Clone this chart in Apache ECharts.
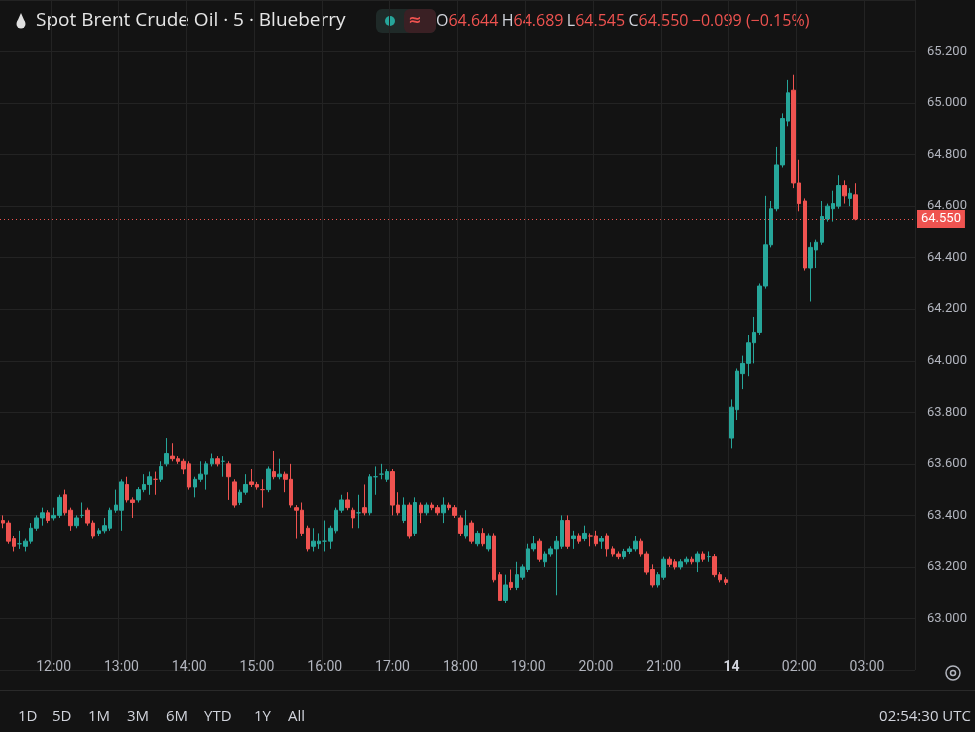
<!DOCTYPE html>
<html><head><meta charset="utf-8">
<script src="https://cdn.jsdelivr.net/npm/echarts@6/dist/echarts.min.js"></script>
<style>html,body{margin:0;padding:0;background:#131313}#c{width:975px;height:732px}</style>
</head><body><div id="c"></div>
<script>
const opens = [63.38,63.37,63.31,63.29,63.28,63.30,63.35,63.39,63.41,63.39,63.40,63.48,63.42,63.36,63.40,63.42,63.37,63.33,63.34,63.35,63.42,63.42,63.52,63.46,63.46,63.50,63.52,63.54,63.54,63.60,63.63,63.62,63.61,63.60,63.51,63.54,63.56,63.60,63.62,63.61,63.60,63.53,63.45,63.49,63.53,63.52,63.50,63.50,63.57,63.55,63.56,63.54,63.43,63.42,63.35,63.28,63.29,63.30,63.30,63.34,63.42,63.46,63.42,63.41,63.43,63.41,63.55,63.56,63.54,63.57,63.44,63.38,63.44,63.33,63.44,63.41,63.44,63.43,63.41,63.44,63.43,63.39,63.32,63.37,63.29,63.33,63.27,63.32,63.17,63.07,63.14,63.12,63.16,63.19,63.27,63.30,63.22,63.25,63.27,63.28,63.38,63.31,63.32,63.31,63.32,63.32,63.30,63.32,63.27,63.25,63.24,63.26,63.27,63.30,63.25,63.19,63.13,63.16,63.23,63.22,63.20,63.22,63.23,63.22,63.25,63.24,63.24,63.17,63.15,63.70,63.81,63.95,63.99,64.07,64.11,64.29,64.45,64.59,64.76,64.93,65.05,64.69,64.62,64.36,64.43,64.46,64.55,64.59,64.60,64.68,64.63,64.644];
const closes = [63.37,63.30,63.28,63.29,63.30,63.35,63.39,63.41,63.38,63.40,63.47,63.41,63.36,63.39,63.40,63.37,63.32,63.34,63.36,63.42,63.44,63.53,63.46,63.45,63.50,63.52,63.55,63.54,63.59,63.64,63.62,63.61,63.58,63.51,63.54,63.56,63.60,63.62,63.60,63.61,63.55,63.44,63.49,63.52,63.52,63.51,63.50,63.58,63.55,63.56,63.54,63.44,63.42,63.33,63.27,63.30,63.30,63.30,63.35,63.42,63.46,63.43,63.39,63.41,63.41,63.55,63.55,63.56,63.57,63.44,63.41,63.44,63.32,63.45,63.41,63.44,63.43,63.41,63.44,63.43,63.40,63.33,63.36,63.30,63.33,63.29,63.32,63.15,63.07,63.13,63.12,63.17,63.20,63.27,63.29,63.23,63.25,63.27,63.30,63.38,63.28,63.32,63.30,63.33,63.32,63.29,63.31,63.27,63.25,63.24,63.26,63.27,63.30,63.25,63.18,63.13,63.17,63.23,63.21,63.20,63.22,63.23,63.22,63.25,63.23,63.24,63.17,63.15,63.14,63.82,63.96,63.99,64.07,64.11,64.29,64.45,64.59,64.76,64.94,65.04,64.69,64.61,64.36,64.44,64.46,64.56,64.60,64.61,64.68,64.64,64.65,64.550];
const highs = [63.40,63.38,63.32,63.34,63.31,63.37,63.40,63.43,63.42,63.43,63.48,63.50,63.43,63.40,63.45,63.43,63.38,63.35,63.39,63.43,63.50,63.54,63.55,63.47,63.51,63.56,63.57,63.57,63.61,63.70,63.68,63.63,63.62,63.61,63.55,63.61,63.61,63.64,63.63,63.63,63.61,63.54,63.50,63.56,63.58,63.53,63.54,63.59,63.65,63.62,63.57,63.60,63.44,63.45,63.36,63.35,63.33,63.38,63.36,63.43,63.48,63.49,63.43,63.48,63.52,63.56,63.59,63.60,63.58,63.58,63.49,63.47,63.45,63.47,63.45,63.45,63.45,63.44,63.47,63.45,63.44,63.40,63.42,63.38,63.34,63.35,63.33,63.33,63.18,63.17,63.19,63.22,63.21,63.29,63.32,63.31,63.26,63.28,63.32,63.40,63.40,63.34,63.33,63.36,63.33,63.34,63.32,63.33,63.28,63.26,63.27,63.28,63.32,63.31,63.26,63.21,63.18,63.24,63.24,63.23,63.23,63.24,63.24,63.26,63.26,63.26,63.25,63.18,63.16,63.85,63.97,64.02,64.10,64.17,64.30,64.64,64.62,64.83,64.96,65.09,65.11,64.78,64.63,64.46,64.47,64.62,64.61,64.66,64.72,64.70,64.67,64.689];
const lows = [63.35,63.29,63.26,63.27,63.26,63.29,63.34,63.36,63.37,63.38,63.39,63.40,63.34,63.35,63.39,63.36,63.31,63.32,63.33,63.34,63.41,63.34,63.45,63.39,63.45,63.49,63.48,63.48,63.53,63.59,63.61,63.60,63.56,63.50,63.47,63.53,63.50,63.59,63.59,63.55,63.46,63.43,63.44,63.48,63.51,63.50,63.43,63.49,63.54,63.54,63.49,63.43,63.31,63.32,63.26,63.26,63.27,63.26,63.27,63.33,63.41,63.42,63.35,63.35,63.40,63.40,63.48,63.54,63.53,63.40,63.40,63.37,63.31,63.32,63.37,63.40,63.42,63.40,63.37,63.42,63.39,63.32,63.31,63.29,63.28,63.28,63.26,63.14,63.07,63.06,63.11,63.11,63.15,63.18,63.26,63.22,63.20,63.24,63.09,63.27,63.27,63.27,63.29,63.30,63.28,63.28,63.27,63.24,63.24,63.23,63.23,63.25,63.26,63.24,63.17,63.12,63.12,63.15,63.20,63.19,63.19,63.21,63.21,63.18,63.22,63.22,63.16,63.14,63.13,63.66,63.77,63.89,63.94,63.99,64.10,64.28,64.44,64.58,64.75,64.91,64.67,64.58,64.35,64.23,64.36,64.45,64.54,64.54,64.59,64.61,64.60,64.545];
const yTicks = ['63.000','63.200','63.400','63.600','63.800','64.000','64.200','64.400','64.600','64.800','65.000','65.200'];
const rangeButtons = ['1D','5D','1M','3M','6M','YTD','1Y','All'];
const lastPrice = 64.550;

// time categories: 5-minute bars from 11:15 to 21:55, then 01:00 onward (session gap)
const cats = [];
const pad = n => String(n).padStart(2,'0');
for (let m = 11*60+15; m <= 21*60+55; m += 5) cats.push(pad(Math.floor(m/60))+':'+pad(m%60));
for (let m = 60; cats.length < 162; m += 5) cats.push(pad(Math.floor(m/60))+':'+pad(m%60));
const data = opens.map((o,i)=>[o, closes[i], lows[i], highs[i]]);
const isHour = i => cats[i].endsWith(':00');

const UP='#26a69a', DN='#ef5350';
const chart = echarts.init(document.getElementById('c'));
const rbX=[18,52,88,127,166,204,254,288];
chart.setOption({
  backgroundColor:'#131313',
  animation:false,
  grid:{left:-10,right:60,top:-12,bottom:62},
  xAxis:{type:'category',data:cats,boundaryGap:true,offset:-18,
    axisLine:{show:false},axisTick:{show:false},
    axisLabel:{color:'#b2b5be',fontSize:14,fontFamily:'Roboto',
      interval:(i)=>isHour(i),
      formatter:(v)=> v==='01:00' ? '{b|14}' : v,
      rich:{b:{fontWeight:'bold',color:'#d1d4dc',fontSize:14,fontFamily:'Roboto'}}},
    splitLine:{show:true,interval:(i)=>isHour(i),lineStyle:{color:'#232323'}}},
  yAxis:{type:'value',position:'right',min:62.8,max:65.4,interval:0.2,
    axisLine:{show:false},axisTick:{show:false},
    axisLabel:{color:'#b2b5be',fontSize:13,fontFamily:'Roboto',margin:12,showMinLabel:false,showMaxLabel:false,
      formatter:v=>{const s=v.toFixed(3);return yTicks.includes(s)?s:'';}},
    splitLine:{lineStyle:{color:'#232323'}}},
  series:[{type:'candlestick',data:data,barWidth:'72%',
    itemStyle:{color:UP,color0:DN,borderColor:UP,borderColor0:DN,borderWidth:1},
    markLine:{symbol:'none',silent:true,
      data:[{yAxis:lastPrice}],
      lineStyle:{color:DN,type:[1,3],width:1},
      label:{position:'end',formatter:lastPrice.toFixed(3),color:'#fff',backgroundColor:DN,
        padding:[3,4,2,4],fontSize:13,fontFamily:'Roboto',distance:2}}}],
  graphic:[
    {type:'rect',shape:{x:0,y:690,width:975,height:1},style:{fill:'#2a2a2a'}},
    {type:'circle',shape:{cx:21,cy:24,r:4.5},style:{fill:'#e0e0e0'}},
    {type:'polygon',shape:{points:[[21,13],[16.8,22.5],[25.2,22.5]]},style:{fill:'#e0e0e0'}},
    {type:'text',x:36,y:21,style:{text:'Spot Brent Crude Oil · 5 · Blueberry',fill:'#e6e6e6',font:'19px "Open Sans"',textVerticalAlign:'middle'}},
    {type:'rect',shape:{x:376,y:9,width:60,height:24,r:6},style:{fill:'#1f2a28'}},
    {type:'rect',shape:{x:404,y:9,width:32,height:24,r:6},style:{fill:'#3a2024'}},
    {type:'circle',shape:{cx:390,cy:21,r:5},style:{fill:'#26a69a'}},
    {type:'text',x:408,y:21,style:{text:'≈',fill:'#ef5350',font:'bold 16px "DejaVu Sans"',textVerticalAlign:'middle'}},
    {type:'text',x:436,y:21,style:{text:'{g|O}{r|64.644} {g|H}{r|64.689} {g|L}{r|64.545} {g|C}{r|64.550} {r|−0.099 (−0.15%)}',textVerticalAlign:'middle',
      rich:{g:{fill:'#d1d4dc',font:'16px "Open Sans"'},r:{fill:'#ef5350',font:'16px "Open Sans"'}}}},
    {type:'circle',shape:{cx:953,cy:673,r:7},style:{fill:'none',stroke:'#b2b5be',lineWidth:1.5}},
    {type:'circle',shape:{cx:953,cy:673,r:2.5},style:{fill:'none',stroke:'#b2b5be',lineWidth:1.5}},
    ...rangeButtons.map((t,i)=>({type:'text',x:rbX[i],y:717,style:{text:t,fill:'#d1d4dc',font:'15px "Open Sans"',textVerticalAlign:'middle'}})),
    {type:'text',x:971,y:717,style:{text:'02:54:30 UTC',fill:'#d1d4dc',font:'15px "Open Sans"',textVerticalAlign:'middle',textAlign:'right'}}
  ]
});
</script></body></html>
